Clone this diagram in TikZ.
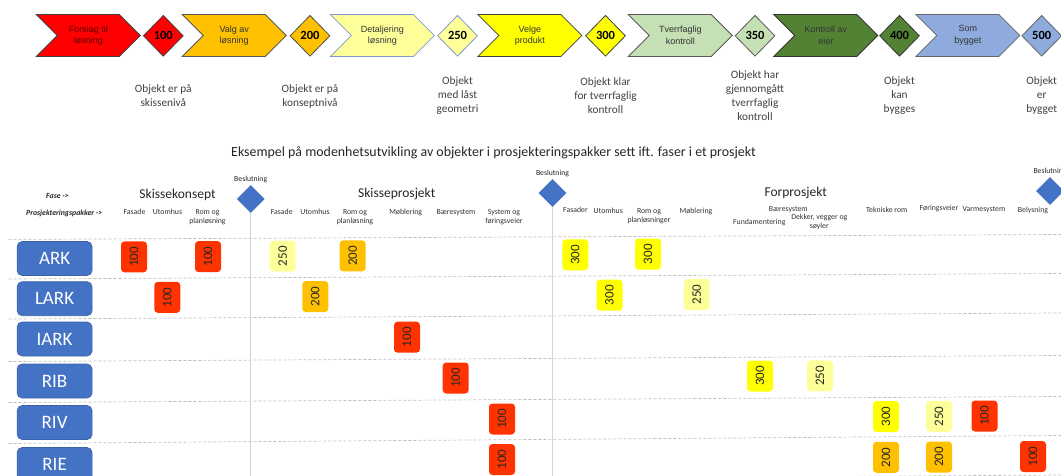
\documentclass[tikz,border=0pt]{standalone}
\usepackage{fontspec}
\setmainfont{Carlito}
\newfontfamily\arialfont{Liberation Sans}
\usetikzlibrary{shapes.symbols,shapes.geometric,positioning}

\definecolor{rod}{HTML}{FF0000}
\definecolor{oransje}{HTML}{FFC000}
\definecolor{lysgul}{HTML}{FFFF99}
\definecolor{gul}{HTML}{FFFF00}
\definecolor{lysgronn}{HTML}{C5E0B4}
\definecolor{morkgronn}{HTML}{548235}
\definecolor{lysblaa}{HTML}{8FAADC}
\definecolor{blaa}{HTML}{4472C4}
\definecolor{morkblaa}{HTML}{3A62AA}
\definecolor{rodoransje}{HTML}{FF3300}
\definecolor{blaagraa}{HTML}{7F9ACB}
\definecolor{skillegraa}{HTML}{D4D4D4}
\definecolor{strekgraa}{HTML}{BDBDBD}
\definecolor{morkrod}{HTML}{5A0000}

\begin{document}
\begin{tikzpicture}[x=1pt,y=-1pt,
  fase/.style={signal, signal to=east, signal from=west, signal pointer angle=90,
    minimum width=104pt, minimum height=42pt, inner sep=0pt, line width=0.8pt,
    align=center, text=black!80, font=\arialfont\fontsize{9}{11.5}\selectfont},
  niva/.style={diamond, minimum width=40pt, minimum height=41pt, inner sep=0pt,
    line width=0.8pt, font=\bfseries\fontsize{12.5}{12.5}\selectfont},
  beskrivelse/.style={align=center, text=black!75, font=\fontsize{11.3}{14}\selectfont},
  fasenavn/.style={text=black!85, font=\fontsize{13.5}{16}\selectfont},
  kolonne/.style={anchor=north, align=center, inner sep=0pt, text=black!80,
    font=\fontsize{7.8}{9}\selectfont},
  pil/.style={text=black!85, font=\bfseries\itshape\fontsize{7.8}{9}\selectfont},
  beslutning/.style={diamond, fill=blaa, minimum width=28pt, minimum height=28pt, inner sep=0pt},
  besltekst/.style={inner sep=0pt, text=black!85, font=\fontsize{7.7}{9}\selectfont},
  pakke/.style={rounded corners=5pt, fill=blaa, draw=morkblaa, line width=0.6pt,
    minimum width=75pt, minimum height=34pt, text=white, font=\fontsize{19}{19}\selectfont},
  modenhet/.style={rounded corners=3.5pt, fill=#1, rotate=90, minimum width=31pt,
    minimum height=26pt, inner sep=0pt, text=black!85, font=\fontsize{13}{13}\selectfont},
  skille/.style={skillegraa, line width=1.5pt},
  rad/.style={strekgraa, dash pattern=on 3pt off 2pt, line width=0.7pt}
]
\useasboundingbox (0,0) rectangle (1061,476);


%draw the phase arrows with the maturity level after each
\node[fase, fill=rod, draw=black!75, text=morkrod] (forslag) at (88.3,35.5) {Forslag til\\løsning};
\node[niva, fill=rod, draw=black!75] (n100) at (163.3,35.8) {100};
\node[fase, fill=oransje, draw=black!65] (valg) at (234.2,35.5) {Valg av\\løsning};
\node[niva, fill=oransje, draw=black!70] (n200) at (310,35.8) {200};
\node[fase, fill=lysgul, draw=blaagraa] (detaljering) at (382.4,35.5) {Detaljering\\løsning};
\node[niva, fill=lysgul, draw=blaagraa] (n250) at (457.5,35.8) {250};
\node[fase, fill=gul, draw=black!75] (velge) at (529.9,35.5) {Velge\\produkt};
\node[niva, fill=gul, draw=black!75] (n300) at (605.5,35.8) {300};
\node[fase, fill=lysgronn, draw=black!65] (tverrfaglig) at (680.3,35.5) {Tverrfaglig\\kontroll};
\node[niva, fill=lysgronn, draw=black!65] (n350) at (755,35.8) {350};
\node[fase, fill=morkgronn, draw=black!80] (kontroll) at (825.8,35.5) {Kontroll av\\eier};
\node[niva, fill=morkgronn, draw=black!80] (n400) at (899.5,35.8) {400};
\node[fase, fill=lysblaa, draw=black!60] (sombygget) at (967.9,35.5) {Som\\bygget};
\node[niva, fill=lysblaa, draw=black!60] (n500) at (1041.7,35.8) {500};


%draw the text under each level
\node[beskrivelse] (b100) at (163.3,96) {Objekt er på\\skissenivå};
\node[beskrivelse] (b200) at (310,96) {Objekt er på\\konseptnivå};
\node[beskrivelse] (b250) at (457.5,96) {Objekt\\med låst\\geometri};
\node[beskrivelse] (b300) at (605.5,96) {Objekt klar\\for tverrfaglig\\kontroll};
\node[beskrivelse] (b350) at (755,96) {Objekt har\\gjennomgått\\tverrfaglig\\kontroll};
\node[beskrivelse] (b400) at (899.5,96) {Objekt\\kan\\bygges};
\node[beskrivelse] (b500) at (1041.7,96) {Objekt\\er\\bygget};

\node[text=black!85, font=\fontsize{13.9}{16}\selectfont] (tittel) at (493.5,153)
  {Eksempel på modenhetsutvikling av objekter i prosjekteringspakker sett ift. faser i et prosjekt};


%draw the dashed row lines
\draw[rad] (8.5,239.4) -- (1061,234.5);
\draw[rad] (8.5,279) -- (1061,273.5);
\draw[rad] (8.5,319) -- (1061,313);
\draw[rad] (8.5,361.5) -- (1061,355.5);
\draw[rad] (8.5,402.5) -- (1061,396.5);
\draw[rad] (8.5,443.5) -- (1061,435.5);
\draw[rad] (8.5,482) -- (1061,475);


%phases, decisions and a line down from each decision
\node[fasenavn] (skissekonsept) at (177.5,194.5) {Skissekonsept};
\node[fasenavn] (skisseprosjekt) at (396.7,194) {Skisseprosjekt};
\node[fasenavn] (forprosjekt) at (795.7,193.3) {Forprosjekt};
\node[pil] (fasepil) at (57.5,196.4) {Fase ->};
\node[pil] (pakkepil) at (64.2,213.3) {Prosjekteringspakker ->};

\node[beslutning] (besl1) at (250.7,199) {};
\node[beslutning] (besl2) at (552.5,193) {};
\node[beslutning] (besl3) at (1050,191) {};
\node[besltekst, above=2pt of besl1] (besl1tekst) {Beslutning};
\node[besltekst, above=2pt of besl2] (besl2tekst) {Beslutning};
\node[besltekst, above=2pt of besl3] (besl3tekst) {Beslutning};
\coordinate (bunn1) at (250.7,476);
\coordinate (bunn2) at (552.5,476);
\draw[skille] (besl1.south) -- (bunn1);
\draw[skille] (besl2.south) -- (bunn2);


%column heads
\node[kolonne] (k1) at (134.5,209) {Fasade};
\node[kolonne] (k2) at (167.5,209) {Utomhus};
\node[kolonne] (k3) at (207.5,209) {Rom og\\planløsning};
\node[kolonne] (k4) at (281.7,209) {Fasade};
\node[kolonne] (k5) at (315,209) {Utomhus};
\node[kolonne] (k6) at (355,209) {Rom og\\planløsning};
\node[kolonne] (k7) at (405.7,209) {Møblering};
\node[kolonne] (k8) at (456,209) {Bæresystem};
\node[kolonne] (k9) at (504,209) {System og\\føringsveier};
\node[kolonne] (k10) at (575.5,207) {Fasader};
\node[kolonne] (k11) at (608.3,208) {Utomhus};
\node[kolonne] (k12) at (649,208) {Rom og\\planløsninger};
\node[kolonne] (k13) at (696,208) {Møblering};
\node[kolonne] (k14) at (788.3,205.8) {Bæresystem};
\node[kolonne] (k15) at (759.3,219.2) {Fundamentering};
\node[kolonne] (k16) at (819.3,213.8) {Dekker, vegger og\\søyler};
\node[kolonne] (k17) at (886.7,207.2) {Tekniske rom};
\node[kolonne] (k18) at (939,205) {Føringsveier};
\node[kolonne] (k19) at (984,206.5) {Varmesystem};
\node[kolonne] (k20) at (1033,206.5) {Belysning};


%project packages
\node[pakke] (ark) at (54.6,258.5) {ARK};
\node[pakke] (lark) at (54.6,298.7) {LARK};
\node[pakke] (iark) at (54.6,339) {IARK};
\node[pakke] (rib) at (54.6,381) {RIB};
\node[pakke] (riv) at (54.6,422.5) {RIV};
\node[pakke] (rie) at (54.6,464.5) {RIE};


%maturity of each object
\node[modenhet=rodoransje] (ark1) at (134,256.9) {100};
\node[modenhet=rodoransje] (ark2) at (208,256.6) {100};
\node[modenhet=lysgul] (ark3) at (282.7,256.2) {250};
\node[modenhet=oransje] (ark4) at (352.7,255.9) {200};
\node[modenhet=gul] (ark5) at (575.3,254.8) {300};
\node[modenhet=gul] (ark6) at (648,254.2) {300};

\node[modenhet=rodoransje] (lark1) at (167.3,297.3) {100};
\node[modenhet=oransje] (lark2) at (315.3,296.6) {200};
\node[modenhet=gul] (lark3) at (609.5,295.2) {300};
\node[modenhet=lysgul] (lark4) at (696.7,294.6) {250};

\node[modenhet=rodoransje] (iark1) at (407,337.2) {100};

\node[modenhet=rodoransje] (rib1) at (455.7,378) {100};
\node[modenhet=gul] (rib2) at (760,376) {300};
\node[modenhet=lysgul] (rib3) at (820,375.8) {250};

\node[modenhet=rodoransje] (riv1) at (502,419) {100};
\node[modenhet=gul] (riv2) at (886,416.5) {300};
\node[modenhet=lysgul] (riv3) at (939,416.3) {250};
\node[modenhet=rodoransje] (riv4) at (984.5,416) {100};

\node[modenhet=rodoransje] (rie1) at (502,459.5) {100};
\node[modenhet=oransje] (rie2) at (886,457.3) {200};
\node[modenhet=oransje] (rie3) at (939,457) {200};
\node[modenhet=rodoransje] (rie4) at (1033,456.5) {100};
\end{tikzpicture}
\end{document}
